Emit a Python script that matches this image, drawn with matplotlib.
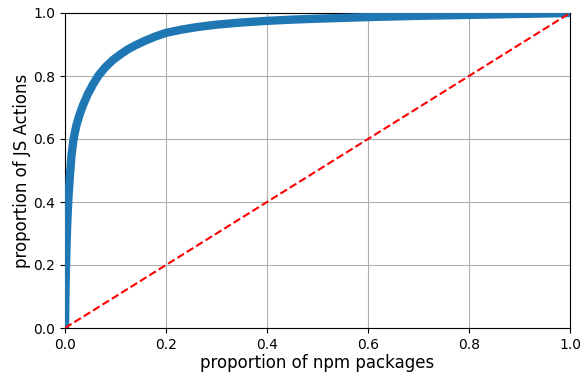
import matplotlib
matplotlib.use("Agg")
import matplotlib.pyplot as plt

# proportion of npm packages (x) vs cumulative proportion of JS Actions (y)
pkg_prop = [0.0, 0.0005, 0.001, 0.002, 0.003, 0.004, 0.005, 0.007, 0.010,
            0.013, 0.017, 0.022, 0.028, 0.035, 0.045, 0.056, 0.067, 0.080,
            0.095, 0.110, 0.125, 0.140, 0.160, 0.180, 0.200, 0.230, 0.260,
            0.300, 0.350, 0.400, 0.450, 0.500, 0.600, 0.700, 0.800, 0.900, 1.0]
action_prop = [0.0, 0.06, 0.12, 0.20, 0.26, 0.31, 0.355, 0.42, 0.49,
               0.55, 0.60, 0.64, 0.673, 0.705, 0.742, 0.775, 0.803, 0.828,
               0.851, 0.869, 0.885, 0.898, 0.913, 0.926, 0.937, 0.947, 0.955,
               0.963, 0.970, 0.975, 0.979, 0.982, 0.987, 0.991, 0.994, 0.997, 1.0]

diag = [0.0, 1.0]
ticks = [0.0, 0.2, 0.4, 0.6, 0.8, 1.0]

fig = plt.figure(figsize=(5.86, 3.73), dpi=100)
ax = fig.add_axes([65/586, 45/373, 505/586, 315/373])
ax.plot(pkg_prop, action_prop, color='#1f77b4', lw=6, solid_capstyle='round',
        solid_joinstyle='round', zorder=3)
ax.plot(diag, diag, 'r--', lw=1.5, zorder=4)
ax.set_xlim(0, 1)
ax.set_ylim(0, 1)
ax.set_xticks(ticks)
ax.set_yticks(ticks)
ax.grid(True)
ax.set_axisbelow(True)
ax.set_xlabel('proportion of npm packages', fontsize=12, labelpad=1.5)
ax.set_ylabel('proportion of JS Actions', fontsize=12, labelpad=1.5)
fig.savefig('out.png', dpi=100)
